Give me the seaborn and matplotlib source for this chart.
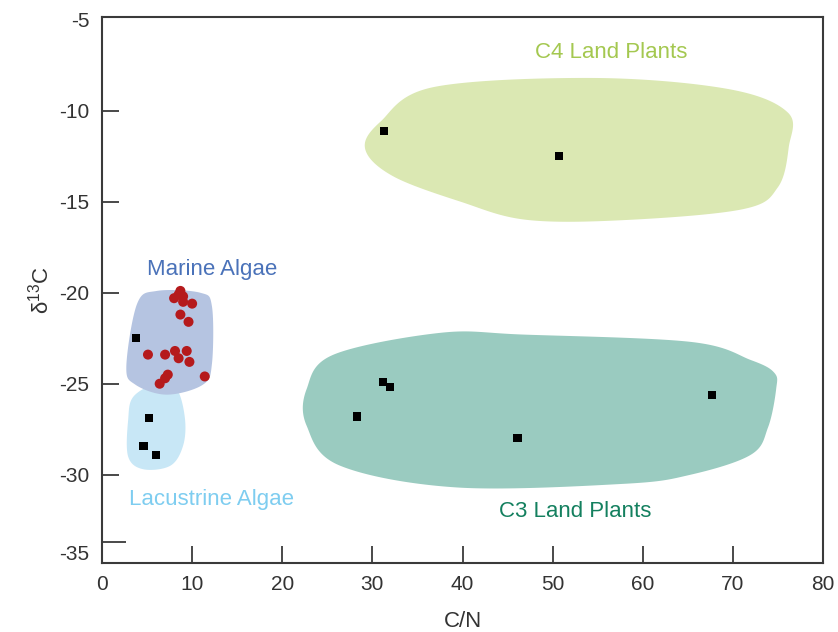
import numpy as np
import pandas as pd
import matplotlib
matplotlib.use("Agg")
import matplotlib.pyplot as plt
import seaborn as sns

# Sample measurements: C/N ratio vs delta 13C
square_cn = [31.3, 50.7, 3.8, 31.2, 32.0, 28.3, 46.1, 67.7, 5.2, 4.6, 6.0]
square_d13c = [-11.1, -12.5, -22.5, -24.9, -25.2, -26.8, -28.0, -25.6, -26.9, -28.4, -28.9]

circle_cn = [8.7, 8.5, 9.0, 8.0, 9.0, 10.0, 8.7, 9.6, 5.1, 7.0, 8.1, 8.5,
             9.4, 9.7, 7.3, 7.0, 6.4, 11.4]
circle_d13c = [-19.9, -20.1, -20.2, -20.3, -20.5, -20.6, -21.2, -21.6, -23.4, -23.4,
               -23.2, -23.6, -23.2, -23.8, -24.5, -24.7, -25.0, -24.6]

# Source end-member fields (outline vertices in data units)
c4_cn = [29.2, 30.9, 36.8, 54.6, 69.4, 76.1, 76.2, 75.0, 71.2, 58.3, 47.2, 39.8, 32.3]
c4_d13c = [-12.1, -10.6, -8.7, -8.2, -8.8, -10.1, -12.0, -14.2, -15.4, -16.0, -16.0, -15.0, -13.6]

c3_cn = [22.7, 25.7, 37.6, 46.8, 65.3, 72.0, 74.6, 74.8, 73.9, 72.0, 65.3, 57.9, 39.4, 26.4, 22.7]
c3_d13c = [-25.3, -23.4, -22.2, -22.3, -22.7, -23.7, -24.4, -25.3, -27.4, -28.9, -30.0, -30.5, -30.7, -29.5, -27.3]

marine_cn = [2.7, 3.9, 6.1, 10.9, 12.2, 12.2, 11.2, 7.2, 3.7]
marine_d13c = [-24.05, -20.6, -19.9, -20.0, -20.75, -23.9, -25.05, -25.6, -25.05]

lacus_cn = [3.5, 6.3, 8.3, 9.2, 9.0, 7.6, 4.6, 2.9, 2.9]
lacus_d13c = [-25.7, -24.95, -25.3, -26.9, -28.4, -29.5, -29.7, -29.0, -27.0]

x_ticks = [0, 10, 20, 30, 40, 50, 60, 70, 80]
y_tick_labels = ["-5", "-10", "-15", "-20", "-25", "-30", "-35"]


def closed_spline(xs, ys, n=40):
    """Closed Catmull-Rom curve through the given vertices."""
    p = np.column_stack([xs, ys]).astype(float)
    m = len(p)
    out = []
    t = np.linspace(0, 1, n, endpoint=False)[:, None]
    for i in range(m):
        p0, p1, p2, p3 = p[(i - 1) % m], p[i], p[(i + 1) % m], p[(i + 2) % m]
        seg = 0.5 * ((2 * p1) + (-p0 + p2) * t + (2 * p0 - 5 * p1 + 4 * p2 - p3) * t ** 2
                     + (-p0 + 3 * p1 - 3 * p2 + p3) * t ** 3)
        out.append(seg)
    return np.vstack(out)


sns.set_style("white")
plt.rcParams["font.family"] = ["Liberation Sans", "DejaVu Sans"]
plt.rcParams["mathtext.default"] = "regular"

fig = plt.figure(figsize=(8.38, 6.32), dpi=100)
ax = fig.add_axes([102 / 838, 1 - 563 / 632, (823 - 102) / 838, (563 - 17) / 632])

fields = [
    (c4_cn, c4_d13c, "#dbe8b3"),
    (c3_cn, c3_d13c, "#9acbc0"),
    (lacus_cn, lacus_d13c, "#c8e7f6"),
    (marine_cn, marine_d13c, "#b5c4e1"),
]
for fx, fy, col in fields:
    curve = closed_spline(fx, fy)
    ax.fill(curve[:, 0], curve[:, 1], color=col, lw=0, zorder=1)

sq = pd.DataFrame({"cn": square_cn, "d13c": square_d13c})
ci = pd.DataFrame({"cn": circle_cn, "d13c": circle_d13c})
sns.scatterplot(data=sq, x="cn", y="d13c", marker="s", s=34, color="black",
                edgecolor="none", ax=ax, zorder=3)
sns.scatterplot(data=ci, x="cn", y="d13c", marker="o", s=52, color="#b51a1c",
                edgecolor="none", ax=ax, zorder=3)

ax.text(56.5, -6.8, "C4 Land Plants", color="#a4c850", fontsize=16, ha="center", va="center")
ax.text(12.2, -18.75, "Marine Algae", color="#4a72b9", fontsize=16, ha="center", va="center")
ax.text(12.2, -31.35, "Lacustrine Algae", color="#7ecdf0", fontsize=16, ha="center", va="center")
ax.text(52.5, -32.0, "C3 Land Plants", color="#14805f", fontsize=16, ha="center", va="center")

ax.set_xlim(0, 80)
ax.set_ylim(-34.85, -4.85)
ax.set_xticks(x_ticks)
ax.set_xticklabels([str(v) for v in x_ticks])
y_pos = [-5, -10, -15, -20, -25, -30, -34.25]
ax.set_yticks(y_pos)
ax.set_yticklabels(y_tick_labels)
ax.set_yticks([-33.7], minor=True)

ax.tick_params(axis="both", which="major", direction="in", length=12, width=1.3,
               color="#3a3a3a", labelsize=15, labelcolor="#333333", pad=9,
               left=True, bottom=True)
ax.tick_params(axis="y", which="minor", direction="in", length=17, width=1.3,
               color="#3a3a3a", left=True)
ax.yaxis.get_major_ticks()[0].tick1line.set_visible(False)
ax.yaxis.get_major_ticks()[-1].tick1line.set_visible(False)

for s in ax.spines.values():
    s.set_visible(True)
    s.set_color("#3a3a3a")
    s.set_linewidth(1.5)

ax.set_xlabel("C/N", fontsize=16, color="#333333", labelpad=12)
ax.set_ylabel("δ$^{13}$C", fontsize=16, color="#333333", labelpad=4)

fig.savefig("out.png", dpi=100)
